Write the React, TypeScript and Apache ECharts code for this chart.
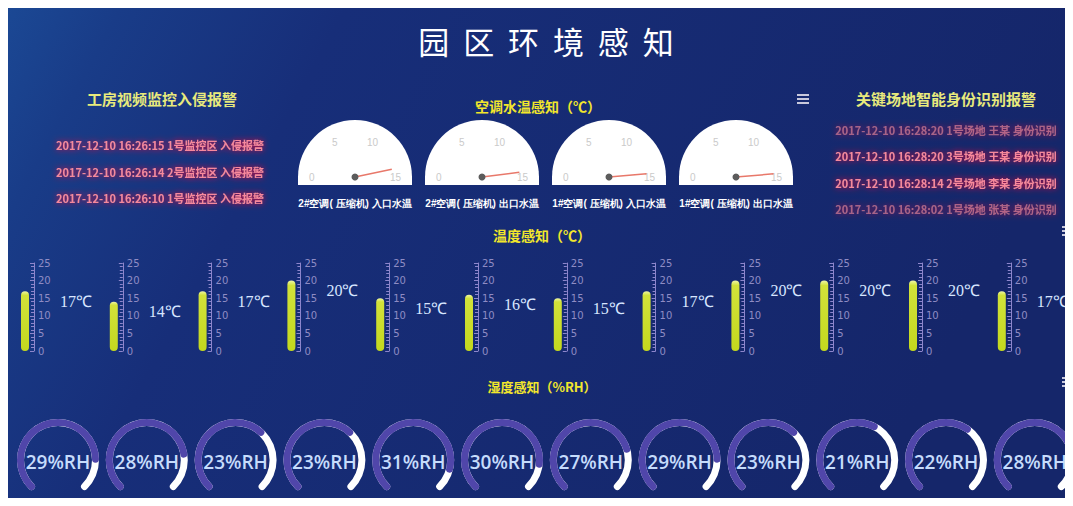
import React, { useEffect, useRef } from 'react';
import * as echarts from 'echarts';

// ---------- data ----------
const mainTitle = '园  区  环  境  感  知';
const intrusionTitle = '工房视频监控入侵报警';
const waterTitle = '空调水温感知（℃）';
const identityTitle = '关键场地智能身份识别报警';
const temperatureTitle = '温度感知（℃）';
const humidityTitle = '湿度感知（%RH）';

const intrusionAlarms = [
  '2017-12-10 16:26:15 1号监控区 入侵报警',
  '2017-12-10 16:26:14 2号监控区 入侵报警',
  '2017-12-10 16:26:10 1号监控区 入侵报警',
];
const identityAlarms = [
  '2017-12-10 16:28:20 1号场地 王某 身份识别',
  '2017-12-10 16:28:20 3号场地 王某 身份识别',
  '2017-12-10 16:28:14 2号场地 李某 身份识别',
  '2017-12-10 16:28:02 1号场地 张某 身份识别',
];

const waterGaugeNames = [
  '2#空调( 压缩机) 入口水温',
  '2#空调( 压缩机) 出口水温',
  '1#空调( 压缩机) 入口水温',
  '1#空调( 压缩机) 出口水温',
];
const waterGaugeValues = [14.0, 14.4, 14.6, 14.6];
const waterMin = 0;
const waterMax = 15;

const temperatureValues = [17, 14, 17, 20, 15, 16, 15, 17, 20, 20, 20, 17];
const temperatureMin = 0;
const temperatureMax = 25;
const temperatureInterval = 5;

const humidityValues = [29, 28, 23, 23, 31, 30, 27, 29, 23, 21, 22, 28];
const humidityMax = 35;

// ---------- layout ----------
const W = 1060;
const H = 490;

export default function App() {
  const ref = useRef<HTMLDivElement>(null);

  useEffect(() => {
    if (!ref.current) return;
    const chart = echarts.init(ref.current, undefined, { renderer: 'svg' });

    const grids: any[] = [];
    const xAxes: any[] = [];
    const yAxes: any[] = [];
    const series: any[] = [];

    // thermometers
    temperatureValues.forEach((v, i) => {
      const cx = 17 + 88.8 * i;
      grids.push({ left: cx - 9, top: 255, width: 18, height: 88 });
      xAxes.push({ gridIndex: i, type: 'category', data: [''], show: false });
      yAxes.push({
        gridIndex: i,
        type: 'value',
        position: 'right',
        min: temperatureMin,
        max: temperatureMax,
        interval: temperatureInterval,
        axisLine: { show: true, lineStyle: { color: '#8d86cc', width: 1 } },
        axisTick: { show: true, inside: true, length: 4, lineStyle: { color: '#8d86cc' } },
        minorTick: { show: true, splitNumber: 5, length: 3, lineStyle: { color: '#8d86cc' } },
        splitLine: { show: false },
        axisLabel: { color: '#8f8cc4', fontSize: 10, margin: 4, fontFamily: 'DejaVu Sans' },
      });
      series.push({
        type: 'bar',
        xAxisIndex: i,
        yAxisIndex: i,
        barWidth: 8,
        data: [v],
        itemStyle: {
          borderRadius: 4,
          color: new echarts.graphic.LinearGradient(0, 0, 0, 1, [
            { offset: 0, color: '#eef6a8' },
            { offset: 0.07, color: '#d2e23a' },
            { offset: 1, color: '#c4d81e' },
          ]),
        },
        label: {
          show: true,
          position: [39, 10],
          align: 'left',
          verticalAlign: 'middle',
          formatter: '{c}℃',
          color: '#d8e6ff',
          fontSize: 16,
          fontFamily: 'Liberation Serif',
        },
      });
    });

    // water temperature gauges
    waterGaugeValues.forEach((v, i) => {
      const cx = 347 + 127 * i;
      series.push({
        type: 'gauge',
        center: [cx, 169],
        radius: 57,
        min: waterMin,
        max: waterMax,
        splitNumber: 3,
        startAngle: 180,
        endAngle: 0,
        axisLine: { lineStyle: { width: 57, color: [[1, '#ffffff']] } },
        splitLine: { show: false, length: 0, distance: 0 },
        axisTick: { show: false },
        axisLabel: { distance: 11, color: '#cacaca', fontSize: 10 },
        pointer: { icon: 'rect', width: 1.5, length: '66%', itemStyle: { color: '#e8786a' } },
        anchor: { show: true, size: 7, showAbove: true, itemStyle: { color: '#5c5c5c' } },
        title: { offsetCenter: [0, 26], color: '#ffffff', fontSize: 10, fontWeight: 'bold' },
        detail: { show: false },
        data: [{ value: v, name: waterGaugeNames[i] }],
      });
    });

    // humidity gauges
    humidityValues.forEach((v, i) => {
      const cx = 50 + 88.8 * i;
      series.push({
        type: 'gauge',
        center: [cx, 452],
        radius: 41,
        min: 0,
        max: humidityMax,
        startAngle: 225,
        endAngle: -45,
        axisLine: { roundCap: true, lineStyle: { width: 7, color: [[1, '#ffffff']] } },
        progress: { show: true, width: 7, roundCap: true, itemStyle: { color: '#5046aa' } },
        pointer: { show: false },
        anchor: { show: false },
        axisTick: { show: false },
        splitLine: { show: false },
        axisLabel: { show: false },
        title: { show: false },
        detail: {
          formatter: '{value}%RH',
          offsetCenter: [0, 2],
          color: '#c6dcfc',
          fontSize: 19,
          fontFamily: 'Open Sans',
          fontWeight: 600,
        },
        data: [{ value: v }],
      });
    });

    const graphic: any[] = [];
    const addTitle = (text: string, x: number, y: number, size: number, fill: string) => {
      graphic.push({
        type: 'text',
        x,
        y,
        style: {
          text,
          fill,
          fontSize: size,
          fontWeight: 'bold',
          fontFamily: 'Noto Sans CJK SC',
          align: 'center',
          verticalAlign: 'middle',
        },
      });
    };

    graphic.push({
      type: 'text',
      x: 538,
      y: 32,
      style: {
        text: mainTitle,
        fill: '#ffffff',
        fontSize: 31,
        fontFamily: 'Noto Sans CJK SC',
        align: 'center',
        verticalAlign: 'middle',
      },
    });
    addTitle(intrusionTitle, 154, 90, 15, '#e8ea7c');
    addTitle(waterTitle, 530, 98, 14, '#f2e62c');
    addTitle(identityTitle, 938, 90, 15, '#e8ea7c');
    addTitle(temperatureTitle, 534, 227, 14, '#f2e62c');
    addTitle(humidityTitle, 534, 378, 13, '#f2e62c');

    const addAlarm = (text: string, x: number, y: number, opacity: number) => {
      graphic.push({
        type: 'text',
        x,
        y,
        style: {
          text,
          fill: 'rgba(255,140,158,0.95)',
          opacity,
          fontSize: 11,
          fontWeight: 'bold',
          fontFamily: 'Noto Sans CJK SC',
          align: 'center',
          verticalAlign: 'middle',
          textShadowColor: '#ff1030',
          textShadowBlur: 6,
        },
      });
    };
    intrusionAlarms.forEach((t, i) => addAlarm(t, 152, 137 + 26.5 * i, 1));
    identityAlarms.forEach((t, i) => addAlarm(t, 938, 122 + 26.3 * i, i === 0 || i === 3 ? 0.6 : 1));

    // white base under each half-dial
    waterGaugeValues.forEach((_, i) => {
      const cx = 347 + 127 * i;
      graphic.push({
        type: 'rect',
        z: -1,
        shape: { x: cx - 57, y: 168, width: 114, height: 9 },
        style: { fill: '#ffffff' },
      });
    });

    // menu icons
    const addMenu = (x: number, y: number) => {
      [0, 4, 8].forEach((dy) => {
        graphic.push({
          type: 'rect',
          shape: { x, y: y - 4 + dy, width: 12, height: 2 },
          style: { fill: '#c8c8dc' },
        });
      });
    };
    addMenu(789, 90);
    addMenu(1054, 222);
    addMenu(1054, 373);

    chart.setOption({
      animation: false,
      backgroundColor: new echarts.graphic.LinearGradient(0, 0, 1, 0.25, [
        { offset: 0, color: '#1b4894' },
        { offset: 0.1, color: '#193c88' },
        { offset: 0.3, color: '#172e79' },
        { offset: 1, color: '#15266a' },
      ]),
      grid: grids,
      xAxis: xAxes,
      yAxis: yAxes,
      series,
      graphic,
    });

    return () => chart.dispose();
  }, []);

  return <div ref={ref} style={{ width: W, height: H }} />;
}
